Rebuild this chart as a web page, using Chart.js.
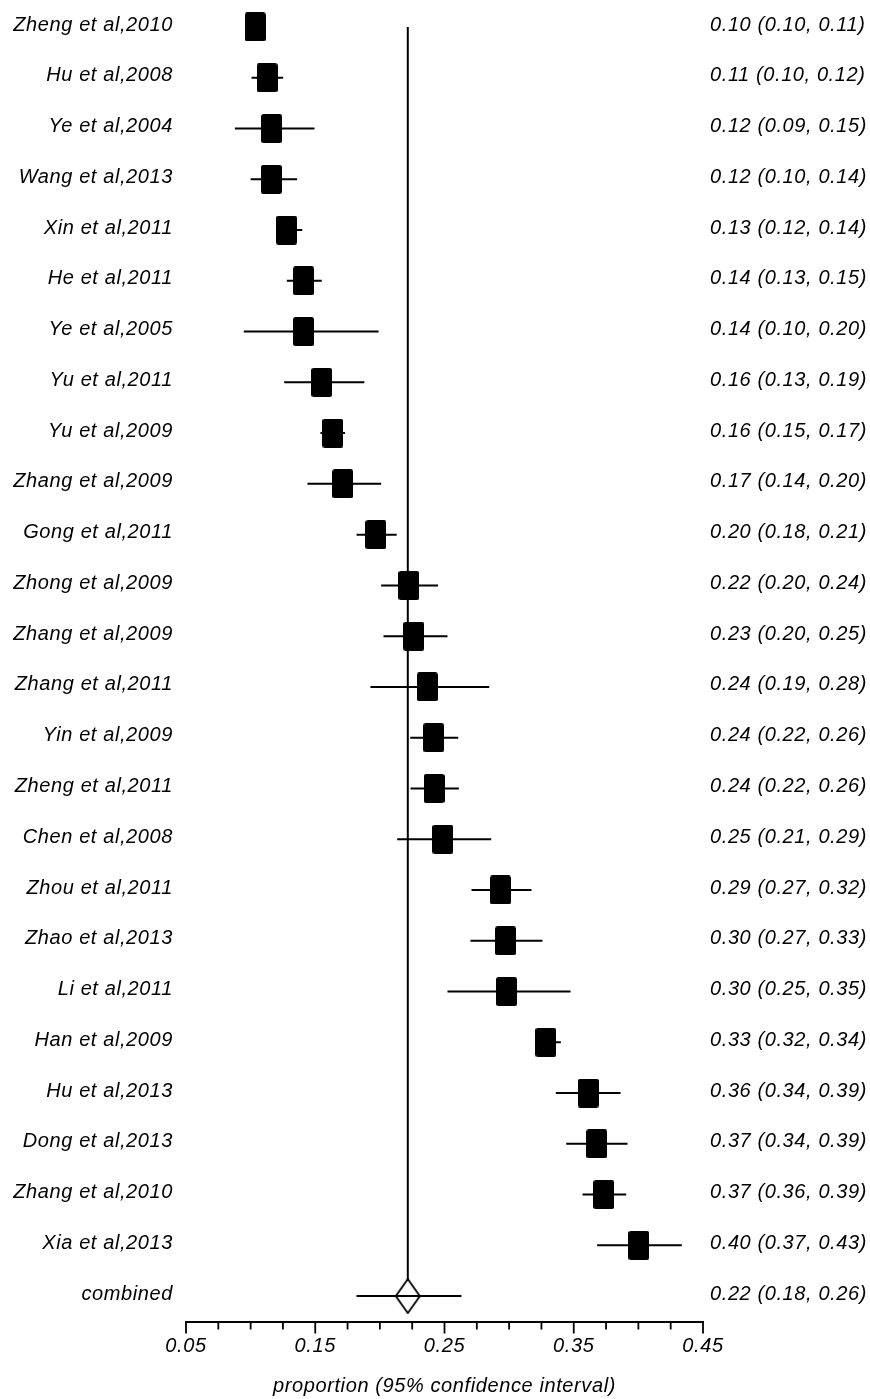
<!DOCTYPE html>
<html><head><meta charset="utf-8">
<script src="https://cdn.jsdelivr.net/npm/chart.js@4"></script>
<style>html,body{margin:0;padding:0;background:#fff}canvas{display:block}</style>
</head><body>
<canvas id="c" width="870" height="1399"></canvas>
<script>
const rowLabels = ['Zheng et al,2010','Hu et al,2008','Ye et al,2004','Wang et al,2013','Xin et al,2011','He et al,2011','Ye et al,2005','Yu et al,2011','Yu et al,2009','Zhang et al,2009','Gong et al,2011','Zhong et al,2009','Zhang et al,2009','Zhang et al,2011','Yin et al,2009','Zheng et al,2011','Chen et al,2008','Zhou et al,2011','Zhao et al,2013','Li et al,2011','Han et al,2009','Hu et al,2013','Dong et al,2013','Zhang et al,2010','Xia et al,2013','combined'];
const rowTexts = ['0.10 (0.10, 0.11)','0.11 (0.10, 0.12)','0.12 (0.09, 0.15)','0.12 (0.10, 0.14)','0.13 (0.12, 0.14)','0.14 (0.13, 0.15)','0.14 (0.10, 0.20)','0.16 (0.13, 0.19)','0.16 (0.15, 0.17)','0.17 (0.14, 0.20)','0.20 (0.18, 0.21)','0.22 (0.20, 0.24)','0.23 (0.20, 0.25)','0.24 (0.19, 0.28)','0.24 (0.22, 0.26)','0.24 (0.22, 0.26)','0.25 (0.21, 0.29)','0.29 (0.27, 0.32)','0.30 (0.27, 0.33)','0.30 (0.25, 0.35)','0.33 (0.32, 0.34)','0.36 (0.34, 0.39)','0.37 (0.34, 0.39)','0.37 (0.36, 0.39)','0.40 (0.37, 0.43)','0.22 (0.18, 0.26)'];
const estimates = [0.1035,0.1127,0.1163,0.116,0.1278,0.141,0.141,0.155,0.1636,0.1713,0.197,0.2224,0.2263,0.2367,0.2416,0.2419,0.2487,0.2933,0.2972,0.298,0.3284,0.3612,0.3678,0.3733,0.4003];
const lower = [0.100,0.1007,0.0878,0.100,0.120,0.128,0.0947,0.126,0.154,0.144,0.182,0.201,0.2028,0.1927,0.2235,0.2237,0.2134,0.2709,0.2701,0.2523,0.320,0.3361,0.3442,0.3568,0.3681];
const upper = [0.110,0.1252,0.1494,0.136,0.140,0.155,0.199,0.188,0.173,0.201,0.213,0.245,0.2523,0.2846,0.2606,0.2611,0.2861,0.3173,0.3258,0.3475,0.340,0.3862,0.3916,0.3906,0.4336];
const combinedEst = 0.2216;
const combinedLower = 0.1819;
const combinedUpper = 0.2631;
const xTickValues = [0.05,0.075,0.1,0.125,0.15,0.175,0.2,0.225,0.25,0.275,0.3,0.325,0.35,0.375,0.4,0.425,0.45];
const xTickLabels = ['0.05','','','','0.15','','','','0.25','','','','0.35','','','','0.45'];
const xTitle = 'proportion (95% confidence interval)';

function makeBox(w, h, r) {
  const c = document.createElement('canvas'); c.width = w; c.height = h;
  const g = c.getContext('2d'); g.fillStyle = '#000';
  g.beginPath(); g.roundRect(0, 0, w, h, r); g.fill();
  return c;
}
function makeDiamond(w, h) {
  const c = document.createElement('canvas'); c.width = w; c.height = h;
  const g = c.getContext('2d');
  g.beginPath(); g.moveTo(w/2, 1); g.lineTo(w-1, h/2); g.lineTo(w/2, h-1); g.lineTo(1, h/2); g.closePath();
  g.fillStyle = '#fff'; g.fill(); g.strokeStyle = '#000'; g.lineWidth = 1.8; g.stroke();
  return c;
}
const boxImg = makeBox(21, 29, 2.5);
const diamondImg = makeDiamond(26, 36);
const lastRow = rowLabels.length - 1;

const whiskerData = [];
estimates.forEach((e, i) => {
  whiskerData.push({x: lower[i], y: i}, {x: upper[i], y: i}, {x: null, y: null});
});
whiskerData.push({x: combinedLower, y: lastRow}, {x: combinedUpper, y: lastRow});

const font = {family: "'Liberation Sans', Arial, sans-serif", size: 20, style: 'italic'};

const spacingPlugin = {
  id: 'spacing',
  beforeLayout(chart) { chart.ctx.letterSpacing = '0.6px'; },
  beforeDraw(chart) { chart.ctx.letterSpacing = '0.6px'; }
};
const tickPlugin = {
  id: 'xticks',
  afterDraw(chart) {
    const s = chart.scales.x, ctx = chart.ctx;
    ctx.save(); ctx.strokeStyle = '#000'; ctx.lineWidth = 1.8;
    s.ticks.forEach((t, i) => {
      const px = s.getPixelForValue(t.value);
      const len = xTickLabels[i] ? 12 : 8;
      ctx.beginPath(); ctx.moveTo(px, s.top); ctx.lineTo(px, s.top + len); ctx.stroke();
    });
    ctx.restore();
  }
};

const yCommon = {
  type: 'linear', min: -0.5, max: lastRow + 0.5, reverse: true,
  grid: {display: false, drawTicks: false}, border: {display: false},
};

new Chart(document.getElementById('c'), {
  type: 'scatter',
  data: {
    datasets: [
      {data: [{x: combinedEst, y: 0}, {x: combinedEst, y: lastRow}], showLine: true, borderColor: '#000', borderWidth: 2, pointRadius: 0, order: 4},
      {data: [{x: combinedEst, y: lastRow}], pointStyle: diamondImg, pointRadius: 10, order: 3},
      {data: whiskerData, showLine: true, spanGaps: false, borderColor: '#000', borderWidth: 2, pointRadius: 0, order: 2},
      {data: estimates.map((e, i) => ({x: e, y: i})), pointStyle: boxImg, pointRadius: 10, order: 1}
    ]
  },
  options: {
    responsive: false, animation: false, events: [],
    layout: {autoPadding: false, padding: {top: 1.6, left: 0, right: 0, bottom: 0}},
    plugins: {legend: {display: false}, tooltip: {enabled: false}},
    scales: {
      x: {
        type: 'linear', position: 'bottom', min: 0.05, max: 0.45,
        afterBuildTicks: s => { s.ticks = xTickValues.map(v => ({value: v})); },
        afterFit: s => { s.height = 77.5; s.paddingLeft = 0; s.paddingRight = 0; },
        ticks: {autoSkip: false, maxRotation: 0, padding: 13, font, color: '#000',
          callback: (v, i) => xTickLabels[i]},
        grid: {display: true, drawOnChartArea: false, drawTicks: false},
        border: {display: true, color: '#000', width: 2},
        title: {display: true, text: xTitle, font, color: '#000', padding: {top: 0, bottom: 1}}
      },
      y: Object.assign({}, yCommon, {
        position: 'left',
        afterBuildTicks: s => { s.ticks = rowLabels.map((_, i) => ({value: i})); },
        afterFit: s => { s.width = 186; s.paddingTop = 0; s.paddingBottom = 0; },
        ticks: {autoSkip: false, padding: 13, labelOffset: -2, font, color: '#000', callback: v => rowLabels[v]}
      }),
      y2: Object.assign({}, yCommon, {
        position: 'right',
        afterBuildTicks: s => { s.ticks = rowTexts.map((_, i) => ({value: i})); },
        afterFit: s => { s.width = 167; s.paddingTop = 0; s.paddingBottom = 0; },
        ticks: {autoSkip: false, padding: 7, labelOffset: -2, font, color: '#000', callback: v => rowTexts[v]}
      })
    }
  },
  plugins: [spacingPlugin, tickPlugin]
});
</script>
</body></html>
